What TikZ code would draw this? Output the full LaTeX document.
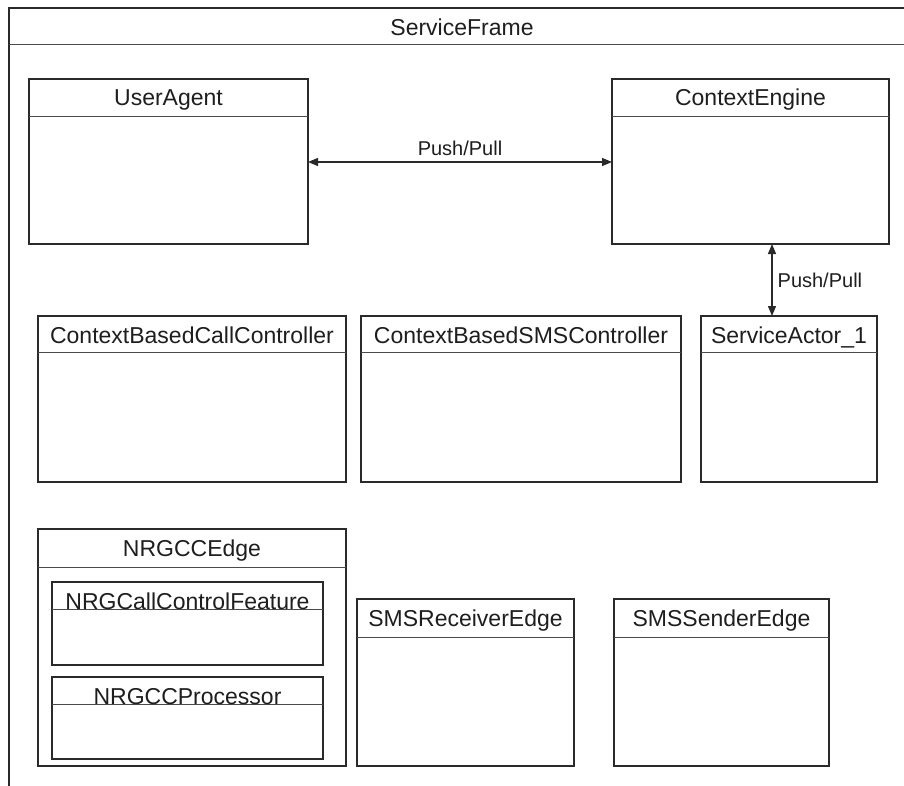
\documentclass[tikz,border=0pt]{standalone}
\usepackage{fontspec}
\setmainfont{Liberation Sans}
\usetikzlibrary{arrows.meta,calc}

\definecolor{linec}{HTML}{2A2A2A}
\definecolor{textc}{HTML}{1E1E1E}

% UML-style class box: name, x, y, width, height, header height, title
\newcommand{\umlclass}[7]{%
  \node[classbox, minimum width=#4pt, minimum height=#5pt, anchor=north west] (#1) at (#2,#3) {};
  \draw[sepline] ($(#1.north west)+(0,-#6pt)$) -- ($(#1.north east)+(0,-#6pt)$);
  \node[classtitle] (#1-t) at ($(#1.north)+(0,-27pt)$) {#7};
}

\begin{document}
\begin{tikzpicture}[x=1pt,y=-1pt,
  classbox/.style={draw=linec, line width=1.6pt, inner sep=0pt, outer sep=0pt},
  sepline/.style={draw=linec!85, line width=1pt},
  classtitle/.style={anchor=base, inner sep=0pt, font=\fontsize{23}{27}\selectfont, text=textc},
  flow/.style={draw=linec, line width=1.3pt,
    {Triangle[length=10pt,width=8pt]}-{Triangle[length=10pt,width=8pt]}},
  flowlabel/.style={font=\fontsize{20}{24}\selectfont, text=textc, inner sep=0pt}]

\useasboundingbox (0,0) rectangle (904,786);
\fill[white] (0,0) rectangle (904,786);
\clip (0,0) rectangle (904,786);

% enclosing service frame (runs past the right and bottom edges)
\node[classbox, minimum width=1000pt, minimum height=900pt, anchor=north west] (frame) at (9,8) {};
\draw[sepline] ($(frame.north west)+(0,-37pt)$) -- ($(frame.north east)+(0,-37pt)$);
\node[classtitle] (frame-t) at (462,36) {ServiceFrame};

% top row
\umlclass{ua}{29}{79}{279}{165}{38}{UserAgent}
\umlclass{ce}{612}{79}{277}{165}{38}{ContextEngine}

% middle row
\umlclass{cbcc}{38}{316}{308}{166}{36}{ContextBasedCallController}
\umlclass{cbsms}{361}{316}{320}{166}{36}{ContextBasedSMSController}
\umlclass{sa}{701}{316}{176}{166}{36}{ServiceActor\_1}

% bottom row
\umlclass{edge}{38}{529}{308}{237}{38}{NRGCCEdge}
\umlclass{ccf}{52}{582}{271}{83}{27}{NRGCallControlFeature}
\umlclass{proc}{52}{677}{271}{82}{27}{NRGCCProcessor}
\umlclass{smsr}{357}{599}{217}{167}{38}{SMSReceiverEdge}
\umlclass{smss}{614}{599}{215}{167}{38}{SMSSenderEdge}

% push/pull connectors
\coordinate (hy) at (0,162);
\coordinate (vx) at (772,0);
\draw[flow] (ua.east |- hy) -- node[flowlabel, above=6pt] {Push/Pull} (ce.west |- hy);
\draw[flow] (vx |- ce.south) -- node[flowlabel, right=5pt] {Push/Pull} (vx |- sa.north);

\end{tikzpicture}
\end{document}
